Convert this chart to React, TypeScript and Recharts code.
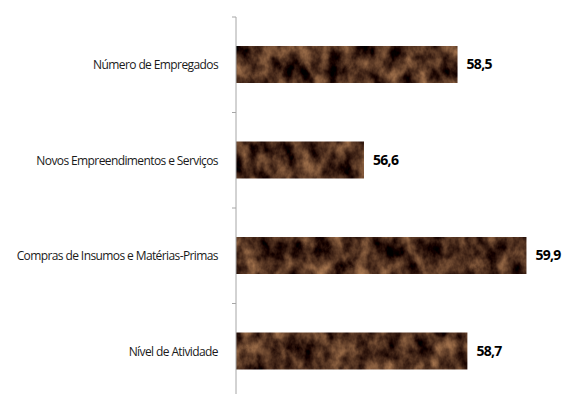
import { BarChart, Bar, XAxis, YAxis, LabelList } from "recharts";

const categories = [
  "Número de Empregados",
  "Novos Empreendimentos e Serviços",
  "Compras de Insumos e Matérias-Primas",
  "Nível de Atividade",
];
const values = [58.5, 56.6, 59.9, 58.7];

const data = categories.map((name, i) => ({ name, value: values[i] }));

const WIDTH = 564;
const HEIGHT = 402;
const MARGIN = { top: 17, right: 8, bottom: 3, left: 0 };
const AXIS_W = 236;
const BAND = (HEIGHT - MARGIN.top - MARGIN.bottom) / categories.length;
const FONT = "'Open Sans', sans-serif";

// category label at band center, tick mark on band boundary (Excel style)
const CategoryTick = (props: any) => {
  const { x, y, payload, index } = props;
  const half = BAND / 2;
  return (
    <g>
      <line x1={x + 4} x2={x + 8} y1={y - half} y2={y - half} stroke="#a6a6a6" />
      {index === categories.length - 1 && (
        <line x1={x + 4} x2={x + 8} y1={y + half} y2={y + half} stroke="#a6a6a6" />
      )}
      <text
        x={x - 10}
        y={y}
        textAnchor="end"
        dominantBaseline="central"
        fontSize={12}
        letterSpacing={-0.6}
        fontFamily={FONT}
        fill="#1a1a1a"
      >
        {payload.value}
      </text>
    </g>
  );
};

export default function App() {
  return (
    <div
      style={{
        position: "fixed",
        left: 0,
        top: 0,
        width: WIDTH,
        height: 394,
        overflow: "hidden",
        background: "#fff",
      }}
    >
      <BarChart
        width={WIDTH}
        height={HEIGHT}
        data={data}
        layout="vertical"
        margin={MARGIN}
        style={{ overflow: "visible" }}
      >
        <defs>
          <filter
            id="marble"
            x="0"
            y="0"
            width="100%"
            height="100%"
            colorInterpolationFilters="sRGB"
          >
            <feTurbulence
              type="fractalNoise"
              baseFrequency="0.07 0.05"
              numOctaves={4}
              seed={7}
              result="noise"
            />
            <feColorMatrix
              in="noise"
              type="matrix"
              values="1.0 0 0 0 -0.2  0.8 0 0 0 -0.22  0.55 0 0 0 -0.16  0 0 0 0 1"
              result="col"
            />
            <feComposite in="col" in2="SourceGraphic" operator="in" />
          </filter>
        </defs>
        <XAxis type="number" domain={[54, 60.5]} hide />
        <YAxis
          type="category"
          dataKey="name"
          width={AXIS_W}
          axisLine={{ stroke: "#a6a6a6" }}
          tickLine={false}
          tick={<CategoryTick />}
          interval={0}
        />
        <Bar
          dataKey="value"
          fill="#4b2e1c"
          barSize={37}
          filter="url(#marble)"
          isAnimationActive={false}
        >
          <LabelList
            dataKey="value"
            position="right"
            offset={9}
            formatter={(v: any) => String(v).replace(".", ",")}
            fontSize={14}
            fontWeight="bold"
            letterSpacing={-0.7}
            fontFamily={FONT}
            fill="#000"
          />
        </Bar>
      </BarChart>
    </div>
  );
}
